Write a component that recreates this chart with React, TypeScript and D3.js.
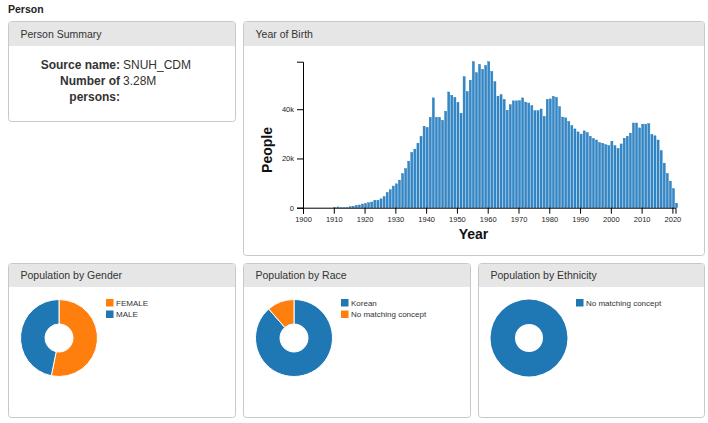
import React, { useEffect, useRef } from "react";
import * as d3 from "d3";

// ---------- DATA ----------
const pageTitle = "Person";
const summaryLabels = ["Source name:", "Number of", "persons:"];
const summaryValues = ["SNUH_CDM", "3.28M"];

const birthYears = d3.range(1910, 2022);
// people per year of birth (thousands)
const birthCountsK = [
  0.05, 0.3, 0.1, 0.1, 0.15, 0.4, 0.6, 0.9, 1.1, 1.5,
  1.7, 2.0, 2.3, 3.0, 3.0, 3.6, 4.5, 6.2, 7.3, 8.8,
  9.7, 11.2, 13.8, 15.9, 18.9, 22.4, 23.8, 26.2, 29.0, 33.1,
  32.6, 36.7, 44.6, 36.7, 36.7, 35.5, 39.2, 47.0, 45.6, 44.8,
  42.8, 38.4, 53.2, 47.2, 51.8, 59.3, 54.8, 58.2, 56.2, 57.8,
  59.3, 55.3, 51.2, 45.3, 45.9, 44.0, 39.6, 41.8, 43.4, 43.4,
  43.5, 44.6, 42.9, 42.5, 41.5, 39.4, 39.4, 40.1, 37.1, 44.0,
  44.2, 45.2, 44.8, 41.0, 36.8, 36.5, 35.0, 33.4, 32.0, 30.8,
  29.9, 31.2, 30.5, 29.0, 28.1, 27.5, 26.4, 26.2, 25.6, 25.2,
  27.0, 25.2, 24.1, 25.9, 28.2, 29.0, 30.3, 34.4, 34.4, 32.4,
  33.9, 33.9, 34.1, 29.8, 29.2, 27.5, 23.2, 18.1, 13.9, 10.8,
  7.7, 1.8,
];
const xTickYears = d3.range(1900, 2021, 10);

const genderLabels = ["FEMALE", "MALE"];
const genderCounts = [1745000, 1535000];
const raceLabels = ["Korean", "No matching concept"];
const raceCounts = [2906000, 374000];
const ethnicityLabels = ["No matching concept"];
const ethnicityCounts = [3280000];

// ---------- STYLE ----------
const FONT = "'Liberation Sans', Arial, Helvetica, sans-serif";
const BLUE = "#1f77b4";
const ORANGE = "#ff7f0e";

type PanelProps = { x: number; y: number; w: number; h: number; hh: number; title: string; children?: React.ReactNode };
function Panel({ x, y, w, h, hh, title, children }: PanelProps) {
  return (
    <g>
      <rect x={x + 0.5} y={y + 0.5} width={w} height={h} rx={3} fill="#fff" stroke="#c8c8c8" />
      <path
        d={`M${x + 1},${y + hh} V${y + 3} Q${x + 1},${y + 1} ${x + 3},${y + 1} H${x + w - 2} Q${x + w},${y + 1} ${x + w},${y + 3} V${y + hh} Z`}
        fill="#e6e6e6"
      />
      <text x={x + 12.5} y={y + hh - 8.5} fontFamily={FONT} fontSize={10.5} fill="#333">
        {title}
      </text>
      {children}
    </g>
  );
}

type DonutProps = { px: number; py: number; labels: string[]; values: number[]; colors: string[] };
function Donut({ px, py, labels, values, colors }: DonutProps) {
  const cx = px + 51;
  const cy = py + 75;
  const pie = d3.pie<number>().sort(null).value((d) => d);
  const arc = d3.arc<d3.PieArcDatum<number>>().innerRadius(14).outerRadius(38.5);
  const arcs = pie(values);
  return (
    <g>
      <g transform={`translate(${cx},${cy})`}>
        {arcs.map((a, i) => (
          <path key={i} d={arc(a) || ""} fill={colors[i]} stroke="#fff" strokeWidth={values.length > 1 ? 1 : 0} />
        ))}
      </g>
      {labels.map((l, i) => (
        <g key={l} transform={`translate(${px + 98},${py + 36 + i * 11.5})`}>
          <rect x={0} y={0} width={7.5} height={7.5} fill={colors[i]} />
          <text x={10} y={6.8} fontFamily={FONT} fontSize={8} fill="#333">
            {l}
          </text>
        </g>
      ))}
    </g>
  );
}

export default function App() {
  const xAxisRef = useRef<SVGGElement>(null);
  const yAxisRef = useRef<SVGGElement>(null);

  const x = d3.scaleLinear().domain([1900, 2021]).range([303, 675.5]);
  const birthCounts = birthCountsK.map((v) => v * 1000);
  const y = d3
    .scaleLinear()
    .domain([0, d3.max(birthCounts) as number])
    .range([207.7, 61.7]);
  const bw = x(1901) - x(1900) - 1;

  useEffect(() => {
    const gx = d3.select(xAxisRef.current!);
    gx.call(
      d3
        .axisBottom(x)
        .tickValues(xTickYears)
        .tickFormat(d3.format("d") as any)
    );
    const gy = d3.select(yAxisRef.current!);
    gy.call(d3.axisLeft(y).ticks(3).tickFormat(d3.format("~s") as any));
    [gx, gy].forEach((g) => {
      g.selectAll("text").attr("font-family", FONT).attr("font-size", 7.5).attr("fill", "#222");
      g.selectAll("path,line").attr("stroke", "#000");
      g.attr("font-family", FONT);
    });
  }, []);

  return (
    <svg
      width={708}
      height={423}
      style={{ position: "absolute", left: 0, top: 0, background: "#fff" }}
    >
      <text x={8} y={12.7} fontFamily={FONT} fontSize={10.5} fontWeight="bold" fill="#222">
        {pageTitle}
      </text>

      <Panel x={8} y={21} w={227} h={100} hh={25} title="Person Summary">
        <text x={120} y={68.5} textAnchor="end" fontFamily={FONT} fontSize={12} fontWeight="bold" fill="#333">
          {summaryLabels[0]}
        </text>
        <text x={123} y={68.5} fontFamily={FONT} fontSize={12} fill="#333">
          {summaryValues[0]}
        </text>
        <text x={120} y={85} textAnchor="end" fontFamily={FONT} fontSize={12} fontWeight="bold" fill="#333">
          {summaryLabels[1]}
        </text>
        <text x={123} y={85} fontFamily={FONT} fontSize={12} fill="#333">
          {summaryValues[1]}
        </text>
        <text x={120} y={101} textAnchor="end" fontFamily={FONT} fontSize={12} fontWeight="bold" fill="#333">
          {summaryLabels[2]}
        </text>
      </Panel>

      <Panel x={243} y={21} w={461} h={234} hh={25} title="Year of Birth">
        <g>
          {birthYears.map((yr, i) => (
            <rect
              key={yr}
              x={x(yr)}
              y={y(birthCounts[i])}
              width={bw}
              height={y(0) - y(birthCounts[i])}
              fill="#3387c8"
              stroke={BLUE}
              strokeWidth={0.4}
            />
          ))}
        </g>
        <g ref={xAxisRef} transform={`translate(0,${y(0)})`} />
        <g ref={yAxisRef} transform={`translate(${x(1900)},0)`} />
        <text
          transform="translate(272,150) rotate(-90)"
          textAnchor="middle"
          fontFamily={FONT}
          fontSize={14}
          fontWeight="bold"
          fill="#111"
        >
          People
        </text>
        <text x={473.5} y={238.5} textAnchor="middle" fontFamily={FONT} fontSize={14} fontWeight="bold" fill="#111">
          Year
        </text>
      </Panel>

      <Panel x={8} y={263} w={227} h={154} hh={24} title="Population by Gender">
        <Donut px={8} py={263} labels={genderLabels} values={genderCounts} colors={[ORANGE, BLUE]} />
      </Panel>
      <Panel x={243} y={263} w={227} h={154} hh={24} title="Population by Race">
        <Donut px={243} py={263} labels={raceLabels} values={raceCounts} colors={[BLUE, ORANGE]} />
      </Panel>
      <Panel x={478} y={263} w={226} h={154} hh={24} title="Population by Ethnicity">
        <Donut px={478} py={263} labels={ethnicityLabels} values={ethnicityCounts} colors={[BLUE]} />
      </Panel>
    </svg>
  );
}
